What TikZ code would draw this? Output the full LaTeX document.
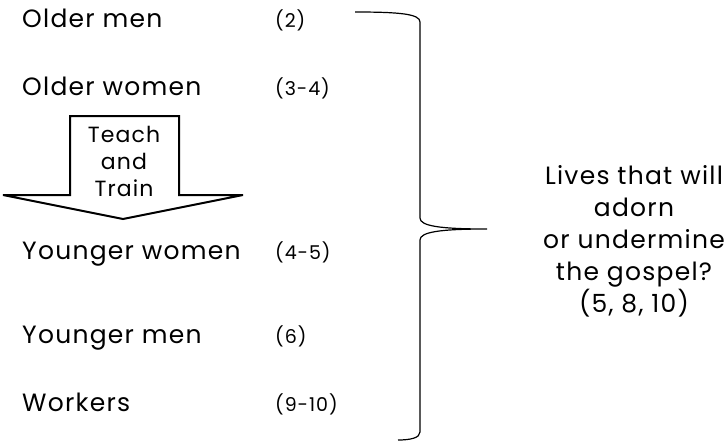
\documentclass[tikz,border=0pt]{standalone}
\usepackage{fontspec}
\setmainfont{Poppins}[LetterSpace=5]
\begin{document}
\begin{tikzpicture}[x=1pt,y=-1pt,
  lbl/.style={anchor=base west,inner sep=0pt,font=\fontsize{25}{30}\selectfont},
  ref/.style={anchor=base west,inner sep=0pt,font=\fontsize{19}{23}\selectfont},
  bracepath/.style={draw=black,line width=1.2pt},
  arrowshape/.style={draw=black,line width=2pt,fill=white,line join=miter}]
\useasboundingbox (0,0) rectangle (727,444);
% labels
\node[lbl] (om) at (22,28) {Older men};
\node[ref] (om2) at (275,28) {(2)};
\node[lbl] (ow) at (22,95) {Older women};
\node[ref] (ow2) at (275,95) {(3-4)};
\node[lbl] (yw) at (22,259) {Younger women};
\node[ref] (yw2) at (275,259) {(4-5)};
\node[lbl] (ym) at (22,343) {Younger men};
\node[ref] (ym2) at (275,343) {(6)};
\node[lbl] (wk) at (22,411) {Workers};
\node[ref] (wk2) at (275,411) {(9-10)};
% block arrow
\draw[arrowshape] (70,116) -- (179,116) -- (179,195) -- (243,195) -- (123,219) -- (3,195) -- (70,195) -- cycle;
\node[align=center,font=\fontsize{22}{27}\selectfont,inner sep=0pt] (tt) at (124,161) {Teach\\and\\Train};
% brace
\coordinate (btop) at (355,12);
\coordinate (bmid) at (487,229);
\coordinate (bbot) at (398,440);
\draw[bracepath] (btop) .. controls (400,12) and (420,14) .. (420,22) -- (420,218)
  .. controls (420,226) and (440,229) .. (bmid)
  .. controls (440,229) and (420,232) .. (420,240) -- (420,432)
  .. controls (420,438) and (410,440) .. (bbot);
% right text
\node[align=center,font=\fontsize{25}{32}\selectfont,inner sep=0pt] (lv) at (634,241)
  {Lives that will\\adorn\\or undermine\\the gospel?\\(5, 8, 10)};
\end{tikzpicture}
\end{document}
